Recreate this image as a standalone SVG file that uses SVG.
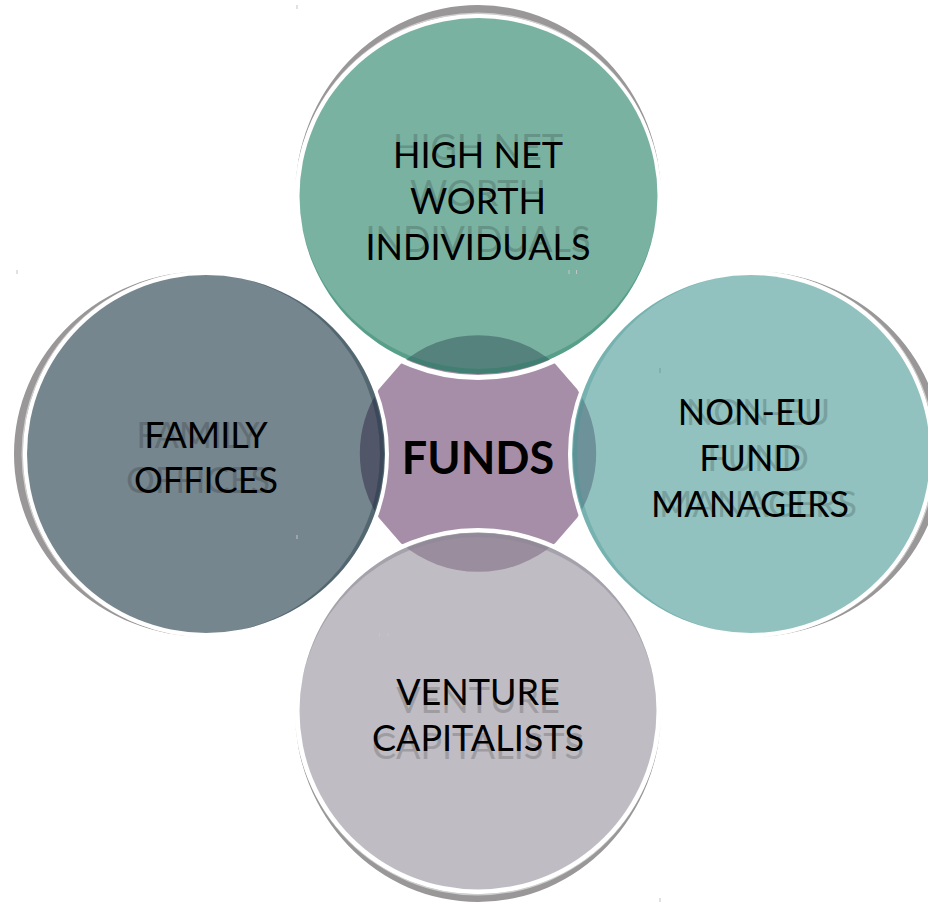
<svg xmlns="http://www.w3.org/2000/svg" width="928" height="902" viewBox="0 0 928 902">
<style>
text{font-family:Lato,"Liberation Sans",sans-serif;font-size:36px;text-anchor:middle;fill:#000}
text.ghost{fill:#000;opacity:.17}
.gray{fill:#999798}
.light{fill:#cfcece}
.ring{fill:none;stroke:#fff;stroke-width:5}
.tick{fill:#c4c4c4}
</style>
<rect width="928" height="902" fill="#fff"/>
<g id="funds">
<path d="M400.7,364 A118 118 0 0 1 555.3,364 L577,389 A118 118 0 0 1 577,518 L555.3,543 A118 118 0 0 1 400.7,543 L379,518 A118 118 0 0 1 379,389 Z" fill="#a78ea8"/>
<text x="478" y="474" font-weight="700" style="font-size:45px">FUNDS</text>
</g>
<g id="high-net-worth">
<path class="gray" d="M295,197 A183 192 0 0 1 661,197 A183 183 0 0 0 295,197 Z"/>
<path class="light" d="M295,197 A183 184.5 0 0 1 661,197 A183 183 0 0 0 295,197 Z"/>
<circle class="ring" cx="478" cy="197" r="180.5"/>
<ellipse cx="478.5" cy="196" rx="179" ry="178" fill="#1a7a5f" fill-opacity=".58"/>
<path d="M299.5,196 A179 178 0 0 0 657.5,196 A179 173 0 0 1 299.5,196 Z" fill="#1a7a5f" fill-opacity=".35"/>
<text class="ghost" x="478" y="160">HIGH NET</text>
<text class="ghost" x="478" y="206">WORTH</text>
<text class="ghost" x="478" y="252">INDIVIDUALS</text>
<text x="478" y="168">HIGH NET</text>
<text x="478" y="214">WORTH</text>
<text x="478" y="260">INDIVIDUALS</text>
</g>
<g id="family-offices">
<path class="gray" d="M206,271 A192 183 0 0 0 206,637 A183 183 0 0 1 206,271 Z"/>
<path class="light" d="M206,271 A184.5 183 0 0 0 206,637 A183 183 0 0 1 206,271 Z"/>
<circle class="ring" cx="206" cy="454" r="180.5"/>
<circle cx="206" cy="454" r="179" fill="#132f3c" fill-opacity=".58"/>
<path d="M206,275 A179 179 0 0 1 206,633 A174 179 0 0 0 206,275 Z" fill="#132f3c" fill-opacity=".35"/>
<text class="ghost" x="198" y="448">FAMILY</text>
<text class="ghost" x="198" y="493">OFFICES</text>
<text x="206" y="448">FAMILY</text>
<text x="206" y="493">OFFICES</text>
</g>
<g id="non-eu-fund-managers">
<path class="gray" d="M751,271 A192 183 0 0 1 751,637 A183 183 0 0 0 751,271 Z"/>
<path class="light" d="M751,271 A184.5 183 0 0 1 751,637 A183 183 0 0 0 751,271 Z"/>
<circle class="ring" cx="751" cy="454" r="180.5"/>
<circle cx="751" cy="454" r="179" fill="#439691" fill-opacity=".58"/>
<path d="M751,275 A179 179 0 0 0 751,633 A174 179 0 0 1 751,275 Z" fill="#439691" fill-opacity=".35"/>
<text class="ghost" x="758" y="425">NON-EU</text>
<text class="ghost" x="758" y="471">FUND</text>
<text class="ghost" x="758" y="517">MANAGERS</text>
<text x="750" y="425">NON-EU</text>
<text x="750" y="471">FUND</text>
<text x="750" y="517">MANAGERS</text>
</g>
<g id="venture-capitalists">
<path class="gray" d="M295,711 A183 191 0 0 0 661,711 A183 183 0 0 1 295,711 Z"/>
<path class="light" d="M295,711 A183 184.5 0 0 0 661,711 A183 183 0 0 1 295,711 Z"/>
<circle class="ring" cx="478" cy="711" r="180.5"/>
<circle cx="478" cy="711" r="178.5" fill="#908d97" fill-opacity=".58"/>
<path d="M299.5,711 A178.5 178.5 0 0 1 656.5,711 A178.5 174 0 0 0 299.5,711 Z" fill="#8c8893" fill-opacity=".5"/>
<text class="ghost" x="478" y="713">VENTURE</text>
<text class="ghost" x="478" y="759">CAPITALISTS</text>
<text x="478" y="705">VENTURE</text>
<text x="478" y="751">CAPITALISTS</text>
</g>
<g id="ticks">
<rect class="tick" x="296.5" y="5" width="1" height="4"/>
<rect class="tick" x="16.5" y="270" width="1" height="4"/>
<rect class="tick" x="296.5" y="535" width="1" height="4"/>
<rect class="tick" x="568.5" y="270" width="1" height="4"/>
<rect class="tick" x="576" y="270" width="1" height="4"/>
<rect x="659.5" y="368" width="1" height="5" fill="#6f9c9a"/>
<rect class="tick" x="379" y="633" width="1" height="4"/>
<rect class="tick" x="387.5" y="633" width="1" height="4"/>
<rect class="tick" x="659.5" y="898" width="1" height="4"/>
</g>
</svg>
